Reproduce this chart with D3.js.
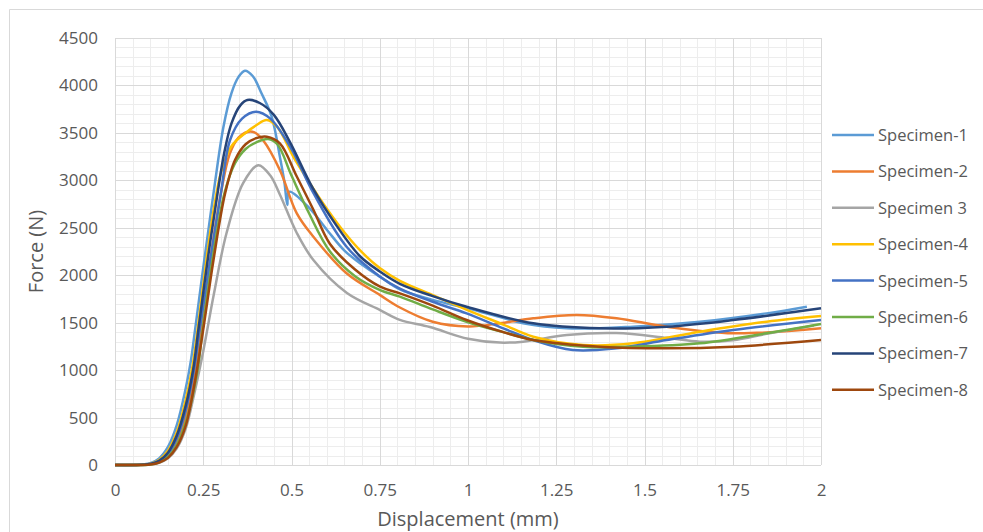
<!DOCTYPE html>
<html>
<head>
<meta charset="utf-8">
<script src="https://cdn.jsdelivr.net/npm/d3@7"></script>
<style>
    body { margin: 0; background: #fff; }
    svg { display: block; font-family: "Open Sans", sans-serif; }
</style>
</head>
<body>
<svg id="chart" width="983" height="532"></svg>
<script>
// displacement (mm), force (N) pairs
const specimen1 = [[0,0],[0.05,0],[0.1,20],[0.125,70],[0.15,190],[0.175,420],[0.2,800],[0.215,1100],[0.227,1430],[0.253,2160],[0.279,2860],[0.307,3560],[0.33,3920],[0.35,4090],[0.368,4155],[0.39,4100],[0.415,3917],[0.444,3670],[0.467,3250],[0.48,2980],[0.488,2740],[0.493,2880],[0.55,2710],[0.6,2480],[0.65,2260],[0.7,2110],[0.75,1985],[0.807,1850],[0.9,1740],[0.996,1654],[1.08,1570],[1.156,1493],[1.28,1440],[1.468,1458],[1.657,1510],[1.846,1598],[1.96,1668]];
const specimen2 = [[0,0],[0.05,0],[0.1,8],[0.125,33],[0.15,100],[0.175,240],[0.2,500],[0.228,980],[0.243,1420],[0.27,2160],[0.3,2863],[0.325,3280],[0.35,3450],[0.375,3510],[0.395,3505],[0.42,3420],[0.467,3109],[0.515,2652],[0.562,2406],[0.656,2020],[0.751,1790],[0.807,1660],[0.9,1510],[1.0,1460],[1.09,1493],[1.185,1546],[1.308,1581],[1.421,1546],[1.563,1458],[1.751,1388],[2.0,1440]];
const specimen3 = [[0,0],[0.05,0],[0.1,5],[0.125,22],[0.15,70],[0.175,175],[0.2,380],[0.225,760],[0.25,1200],[0.28,1800],[0.316,2445],[0.363,2970],[0.406,3160],[0.44,3050],[0.467,2850],[0.515,2445],[0.562,2160],[0.657,1813],[0.751,1633],[0.807,1530],[0.892,1454],[1.0,1330],[1.09,1290],[1.156,1300],[1.28,1370],[1.42,1390],[1.563,1340],[1.657,1300],[1.75,1315],[1.85,1385],[1.98,1470]];
const specimen4 = [[0,0],[0.05,0],[0.1,14],[0.125,52],[0.15,150],[0.175,345],[0.2,680],[0.22,1050],[0.233,1400],[0.259,2160],[0.28,2700],[0.3,3080],[0.33,3360],[0.37,3500],[0.4,3580],[0.43,3636],[0.46,3560],[0.505,3250],[0.55,2980],[0.6,2700],[0.65,2450],[0.7,2240],[0.75,2075],[0.807,1940],[0.9,1790],[1.0,1630],[1.1,1480],[1.185,1352],[1.326,1265],[1.468,1282],[1.657,1405],[1.846,1510],[2.0,1570]];
const specimen5 = [[0,0],[0.05,0],[0.1,10],[0.125,40],[0.15,115],[0.175,280],[0.2,570],[0.225,1030],[0.24,1430],[0.27,2160],[0.3,2863],[0.326,3425],[0.36,3650],[0.4,3723],[0.44,3650],[0.5,3330],[0.56,2880],[0.656,2300],[0.751,1985],[0.807,1860],[0.9,1720],[0.996,1598],[1.1,1440],[1.185,1317],[1.297,1212],[1.421,1230],[1.563,1317],[1.751,1423],[2.0,1528]];
const specimen6 = [[0,0],[0.05,0],[0.1,6],[0.125,28],[0.15,85],[0.175,210],[0.2,440],[0.232,960],[0.248,1420],[0.276,2160],[0.31,2863],[0.34,3180],[0.37,3330],[0.4,3400],[0.434,3435],[0.46,3380],[0.5,3050],[0.55,2650],[0.609,2250],[0.68,1990],[0.751,1844],[0.807,1774],[0.9,1640],[0.996,1510],[1.1,1400],[1.185,1317],[1.326,1247],[1.468,1247],[1.657,1282],[1.846,1388],[2.0,1486]];
const specimen7 = [[0,0],[0.05,0],[0.1,12],[0.125,45],[0.15,130],[0.175,310],[0.2,620],[0.222,1020],[0.236,1420],[0.264,2200],[0.292,2900],[0.31,3300],[0.33,3600],[0.355,3790],[0.375,3846],[0.41,3815],[0.45,3690],[0.496,3400],[0.56,2920],[0.628,2520],[0.694,2200],[0.75,2040],[0.807,1910],[0.9,1780],[0.996,1668],[1.185,1493],[1.374,1440],[1.563,1458],[1.751,1528],[2.0,1651]];
const specimen8 = [[0,0],[0.05,0],[0.1,5],[0.125,25],[0.15,75],[0.175,190],[0.2,410],[0.225,850],[0.25,1430],[0.279,2160],[0.312,2863],[0.34,3214],[0.37,3380],[0.4,3445],[0.43,3460],[0.467,3390],[0.515,3040],[0.562,2690],[0.609,2330],[0.68,2060],[0.751,1879],[0.807,1809],[0.9,1680],[0.996,1528],[1.1,1400],[1.185,1317],[1.374,1247],[1.563,1230],[1.751,1247],[2.0,1317]];

const seriesNames = ["Specimen-1", "Specimen-2", "Specimen 3", "Specimen-4", "Specimen-5", "Specimen-6", "Specimen-7", "Specimen-8"];
const seriesColors = ["#5b9bd5", "#ed7d31", "#a5a5a5", "#ffc000", "#4472c4", "#70ad47", "#264478", "#9e480e"];
const xTicks = [0, 0.25, 0.5, 0.75, 1, 1.25, 1.5, 1.75, 2];
const yTicks = [0, 500, 1000, 1500, 2000, 2500, 3000, 3500, 4000, 4500];

const series = [specimen1, specimen2, specimen3, specimen4, specimen5, specimen6, specimen7, specimen8];

const svg = d3.select("#chart");
const margin = { top: 38, right: 162, bottom: 67, left: 115 };
const width = +svg.attr("width");
const height = +svg.attr("height");
const innerWidth = width - margin.left - margin.right;
const innerHeight = height - margin.top - margin.bottom;

// chart frame (only top and left edges fall inside the picture)
svg.append("path")
    .attr("d", `M9.5,${height}V9.5H${width}`)
    .attr("fill", "none")
    .attr("stroke", "#d9d9d9");

const xScale = d3.scaleLinear().domain([0, 2]).range([0, innerWidth]);
const yScale = d3.scaleLinear().domain([0, 4500]).range([innerHeight, 0]);

const g = svg.append("g")
    .attr("transform", `translate(${margin.left},${margin.top})`);

// minor grid
g.append("g")
    .selectAll("line")
    .data(d3.range(0, 41).map(i => i * 0.05))
    .enter().append("line")
    .attr("x1", d => Math.round(xScale(d)) + 0.5)
    .attr("x2", d => Math.round(xScale(d)) + 0.5)
    .attr("y1", 0)
    .attr("y2", innerHeight)
    .attr("stroke", "#ededed");

g.append("g")
    .selectAll("line")
    .data(d3.range(0, 46).map(i => i * 100))
    .enter().append("line")
    .attr("x1", 0)
    .attr("x2", innerWidth)
    .attr("y1", d => Math.round(yScale(d)) + 0.5)
    .attr("y2", d => Math.round(yScale(d)) + 0.5)
    .attr("stroke", "#ededed");

// major grid
g.append("g")
    .selectAll("line")
    .data(xTicks)
    .enter().append("line")
    .attr("x1", d => Math.round(xScale(d)) + 0.5)
    .attr("x2", d => Math.round(xScale(d)) + 0.5)
    .attr("y1", 0)
    .attr("y2", innerHeight)
    .attr("stroke", "#d9d9d9");

g.append("g")
    .selectAll("line")
    .data(yTicks)
    .enter().append("line")
    .attr("x1", 0)
    .attr("x2", innerWidth)
    .attr("y1", d => Math.round(yScale(d)) + 0.5)
    .attr("y2", d => Math.round(yScale(d)) + 0.5)
    .attr("stroke", "#d9d9d9");

// axes
const xAxis = g.append("g")
    .attr("transform", `translate(0,${innerHeight})`)
    .call(d3.axisBottom(xScale).tickValues(xTicks).tickFormat(String).tickSize(0).tickPadding(19));

const yAxis = g.append("g")
    .call(d3.axisLeft(yScale).tickValues(yTicks).tickFormat(String).tickSize(0).tickPadding(17));

[xAxis, yAxis].forEach(a => {
    a.attr("font-family", "Open Sans").attr("font-size", 17);
    a.select(".domain").remove();
    a.selectAll("text").attr("fill", "#595959");
});

// lines
const line = d3.line()
    .x(d => xScale(d[0]))
    .y(d => yScale(d[1]))
    .curve(d3.curveCatmullRom.alpha(0.5));

g.selectAll(".specimen")
    .data(series)
    .enter().append("path")
    .attr("class", "specimen")
    .attr("d", line)
    .attr("fill", "none")
    .attr("stroke", (d, i) => seriesColors[i])
    .attr("stroke-width", 2.5)
    .attr("stroke-linejoin", "round");

// axis titles
svg.append("text")
    .attr("transform", `translate(43,${margin.top + innerHeight / 2}) rotate(-90)`)
    .attr("text-anchor", "middle")
    .attr("fill", "#595959")
    .attr("font-size", 20)
    .text("Force (N)");

svg.append("text")
    .attr("x", margin.left + innerWidth / 2)
    .attr("y", 526)
    .attr("text-anchor", "middle")
    .attr("fill", "#595959")
    .attr("font-size", 20)
    .text("Displacement (mm)");

// legend
const legend = svg.append("g")
    .attr("transform", "translate(832,135)");

const legendItem = legend.selectAll(".legend-item")
    .data(seriesNames)
    .enter().append("g")
    .attr("class", "legend-item")
    .attr("transform", (d, i) => `translate(0,${i * 36.4})`);

legendItem.append("line")
    .attr("x1", 0)
    .attr("x2", 42)
    .attr("stroke", (d, i) => seriesColors[i])
    .attr("stroke-width", 2.5);

legendItem.append("text")
    .attr("x", 46)
    .attr("y", 6)
    .attr("fill", "#595959")
    .attr("font-size", 16.5)
    .text(d => d);
</script>
</body>
</html>
